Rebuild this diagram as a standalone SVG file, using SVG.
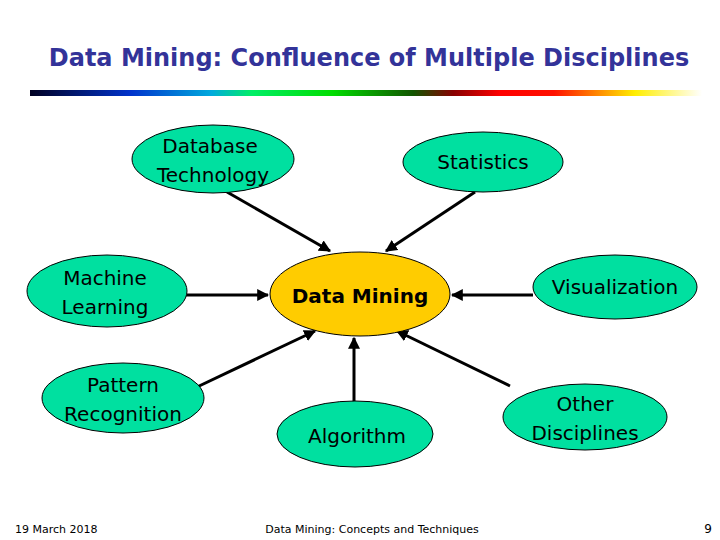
<svg xmlns="http://www.w3.org/2000/svg" width="720" height="540" viewBox="0 0 720 540">
<style>
.n{fill:#00e0a0;stroke:#000;stroke-width:1}
.t{font-family:"DejaVu Sans",Verdana,sans-serif;font-size:20px;fill:#000;text-anchor:middle}
.c line{stroke:#000;stroke-width:3;marker-end:url(#a)}
</style>
<defs>
<marker id="a" viewBox="0 0 10 10" refX="9" refY="5" markerWidth="4" markerHeight="4" orient="auto" markerUnits="strokeWidth"><path d="M0,0L10,5L0,10z" fill="#000"/></marker>
<linearGradient id="g" x1="0" x2="1" y1="0" y2="0">
<stop offset="0" stop-color="#000022"/><stop offset="0.15" stop-color="#0033cc"/><stop offset="0.27" stop-color="#00aadd"/><stop offset="0.33" stop-color="#00ee66"/><stop offset="0.45" stop-color="#00dd00"/><stop offset="0.57" stop-color="#115500"/><stop offset="0.63" stop-color="#880000"/><stop offset="0.7" stop-color="#ff0000"/><stop offset="0.78" stop-color="#ff1100"/><stop offset="0.9" stop-color="#ffee00"/><stop offset="1" stop-color="#ffffff"/>
</linearGradient>
</defs>
<rect width="720" height="540" fill="#fff"/>
<text x="369" y="66" font-family="DejaVu Sans,Verdana,sans-serif" font-size="24" font-weight="bold" fill="#333399" text-anchor="middle">Data Mining: Confluence of Multiple Disciplines</text>
<rect x="30" y="90" width="672" height="6" fill="url(#g)"/>
<g class="c">
<line x1="227" y1="192" x2="330" y2="251"/>
<line x1="475" y1="192" x2="386" y2="251"/>
<line x1="186" y1="295" x2="268" y2="295"/>
<line x1="533" y1="295" x2="452" y2="295"/>
<line x1="197" y1="387" x2="315" y2="331"/>
<line x1="354" y1="402" x2="354" y2="338"/>
<line x1="510" y1="386" x2="397" y2="331"/>
</g>
<g id="dm"><ellipse cx="360" cy="294" rx="90" ry="42" fill="#ffcc00" stroke="#000"/><text x="360" y="303" class="t" font-size="24" font-weight="bold">Data Mining</text></g>
<g id="db"><ellipse class="n" cx="213" cy="159" rx="81" ry="34"/><text class="t" x="210" y="153">Database</text><text class="t" x="213" y="182">Technology</text></g>
<g id="st"><ellipse class="n" cx="483" cy="162" rx="80" ry="30"/><text class="t" x="483" y="169">Statistics</text></g>
<g id="ml"><ellipse class="n" cx="107" cy="291" rx="80" ry="36"/><text class="t" x="105" y="285">Machine</text><text class="t" x="105" y="314">Learning</text></g>
<g id="vi"><ellipse class="n" cx="615" cy="287" rx="82" ry="32"/><text class="t" x="615" y="294">Visualization</text></g>
<g id="pr"><ellipse class="n" cx="123" cy="398" rx="81" ry="35"/><text class="t" x="123" y="392">Pattern</text><text class="t" x="123" y="421">Recognition</text></g>
<g id="al"><ellipse class="n" cx="355" cy="434" rx="78" ry="33"/><text class="t" x="357" y="443">Algorithm</text></g>
<g id="od"><ellipse class="n" cx="585" cy="417" rx="82" ry="33"/><text class="t" x="585" y="411">Other</text><text class="t" x="585" y="440">Disciplines</text></g>
<text x="15" y="533" font-family="DejaVu Sans,Verdana,sans-serif" font-size="11">19 March 2018</text>
<text x="372" y="533" font-family="DejaVu Sans,Verdana,sans-serif" font-size="11" text-anchor="middle">Data Mining: Concepts and Techniques</text>
<text x="712" y="533" font-family="DejaVu Sans,Verdana,sans-serif" font-size="12" text-anchor="end">9</text>
</svg>
